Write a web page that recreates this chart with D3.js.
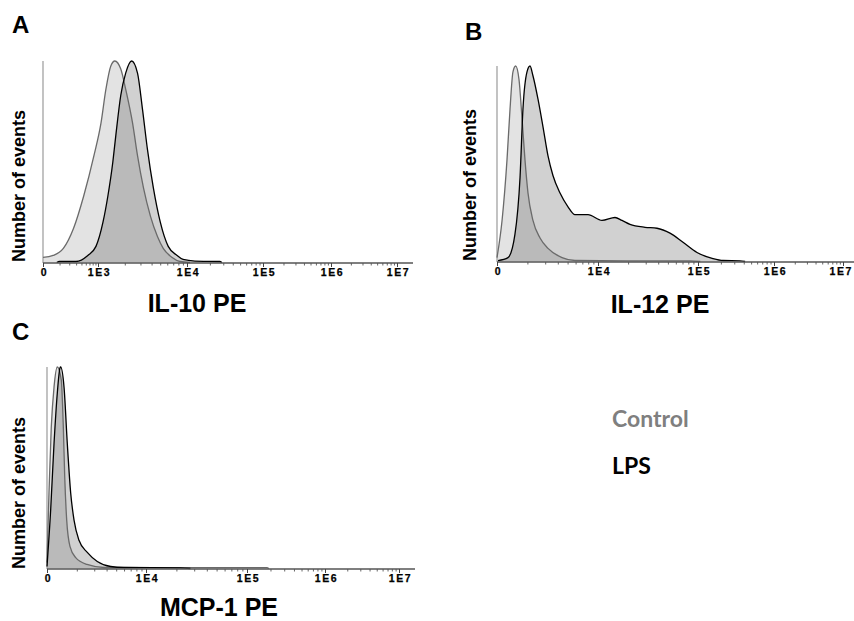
<!DOCTYPE html>
<html>
<head>
<meta charset="utf-8">
<script src="https://cdn.jsdelivr.net/npm/d3@7"></script>
<style>
  html, body { margin: 0; padding: 0; background: #fff; }
  svg { display: block; }
</style>
</head>
<body>
<svg id="chart" width="854" height="621"></svg>
<script>
// ---------------- DATA ----------------
const panelLetters = ["A", "B", "C"];
const markerNames = ["IL-10 PE", "IL-12 PE", "MCP-1 PE"];
const yAxisLabel = "Number of events";
const seriesNames = ["Control", "LPS"];

// tick labels and their position in decades along the axis ("0" sits one decade below the first labelled decade)
const tickLabelsA = ["0", "1E3", "1E4", "1E5", "1E6", "1E7"];
const tickDecadesA = [2, 3, 4, 5, 6, 7];
const tickLabelsBC = ["0", "1E4", "1E5", "1E6", "1E7"];
const tickDecadesBC = [3, 4, 5, 6, 7];

// histograms: [decade position, % of max events]
const il10Control = [[2.0,2.5],[2.185,3.5],[2.37,7],[2.556,17],[2.74,33],[2.926,53],[3.033,69],[3.089,86],[3.144,97.5],[3.189,100],[3.256,96],[3.311,86],[3.389,69],[3.444,53],[3.511,37],[3.589,23],[3.667,13],[3.733,7],[3.833,2.5],[3.922,0.5],[4.04,0]];
const il10LPS = [[2.25,0],[2.3,0.5],[2.6,0.5],[2.815,3.5],[2.963,8],[3.056,20],[3.111,33],[3.167,50],[3.2,63],[3.256,83],[3.311,94],[3.378,100],[3.444,94],[3.5,76],[3.556,56],[3.622,37],[3.7,20],[3.789,8],[3.889,3.5],[3.956,1.5],[4.105,0.7],[4.43,0.5],[4.46,0]];

const il12Control = [[3.0,2],[3.05,21],[3.099,52],[3.129,78],[3.158,97],[3.185,100],[3.218,93],[3.248,73],[3.277,52],[3.307,35],[3.356,21],[3.426,12],[3.505,6.7],[3.644,2],[3.772,0.5],[4.5,0.3],[4.92,0.3],[5.03,0]];
const il12LPS = [[3.01,0.5],[3.109,2],[3.178,14],[3.228,43],[3.257,78],[3.297,97],[3.327,100],[3.356,95],[3.406,83],[3.455,69],[3.505,54],[3.554,44],[3.624,35],[3.703,28],[3.772,24],[3.901,24],[4.04,21],[4.17,22.5],[4.24,21],[4.32,19],[4.47,17.5],[4.59,17],[4.72,14.5],[4.85,9.8],[4.99,4.6],[5.197,1.5],[5.33,0.5],[5.553,0.3],[5.62,0]];

const mcp1Control = [[3.0,3],[3.02,37.6],[3.043,70],[3.071,90],[3.104,100],[3.144,93.6],[3.165,70],[3.179,45.5],[3.199,24],[3.232,11],[3.29,5.4],[3.404,2],[3.576,0.5],[4.5,0.4],[5.256,0.4],[5.28,0]];
const mcp1LPS = [[3.0,1],[3.037,29],[3.071,62],[3.104,87],[3.131,99.5],[3.138,100],[3.172,90],[3.205,62],[3.239,37.6],[3.273,24],[3.323,14],[3.407,8],[3.508,3.5],[3.643,1],[3.778,0.5],[4.34,0.3],[4.44,0]];

// ---------------- LAYOUT ----------------
const FONT = "'Liberation Sans', Arial, Helvetica, sans-serif";
const layout = [
  { letter: [12, 33], tickPx: [43, 98, 187, 263, 331, 397], axisEnd: 413, axisY: 263, topY: 61,
    yLab: [25, 186], title: [197, 312] },
  { letter: [465, 40], tickPx: [497, 598, 698, 774, 843], axisEnd: 854, axisY: 262, topY: 66,
    yLab: [476, 185], title: [660, 313] },
  { letter: [12, 340], tickPx: [47, 146, 247, 325, 399], axisEnd: 415, axisY: 569, topY: 367,
    yLab: [25, 493], title: [219, 616] }
];
const panels = [
  { ticks: tickDecadesA, labels: tickLabelsA, control: il10Control, lps: il10LPS },
  { ticks: tickDecadesBC, labels: tickLabelsBC, control: il12Control, lps: il12LPS },
  { ticks: tickDecadesBC, labels: tickLabelsBC, control: mcp1Control, lps: mcp1LPS }
];

const svg = d3.select("#chart");
const W = +svg.attr("width");

panels.forEach((p, i) => {
  const L = layout[i];
  const g = svg.append("g");
  const x = d3.scaleLinear().domain(p.ticks).range(L.tickPx);
  const y = d3.scaleLinear().domain([0, 100]).range([L.axisY - 0.5, L.topY]);

  const area = d3.area().x(d => x(d[0])).y0(y(0)).y1(d => y(d[1])).curve(d3.curveMonotoneX);
  const line = d3.line().x(d => x(d[0])).y(d => y(d[1])).curve(d3.curveMonotoneX);

  // fills
  g.append("path").attr("d", area(p.control)).attr("fill", "#000").attr("fill-opacity", 0.11);
  g.append("path").attr("d", area(p.lps)).attr("fill", "#000").attr("fill-opacity", 0.18);

  // y axis line
  g.append("line")
    .attr("x1", L.tickPx[0]).attr("x2", L.tickPx[0])
    .attr("y1", L.axisY).attr("y2", L.topY)
    .attr("stroke", "#9a9a9a").attr("stroke-width", 1.2);

  // outlines
  g.append("path").attr("d", line(p.control)).attr("fill", "none")
    .attr("stroke", "#6a6a6a").attr("stroke-width", 1.3);
  g.append("path").attr("d", line(p.lps)).attr("fill", "none")
    .attr("stroke", "#000").attr("stroke-width", 1.3);

  // x axis baseline
  g.append("line")
    .attr("x1", L.tickPx[0]).attr("x2", L.axisEnd)
    .attr("y1", L.axisY).attr("y2", L.axisY)
    .attr("stroke", "#555").attr("stroke-width", 1.3);

  // minor ticks
  const minor = [];
  p.ticks.forEach(t => { for (let k = 2; k <= 9; k++) minor.push(t + Math.log10(k)); });
  const minorVis = minor.filter(m => x(m) <= L.axisEnd - 1);
  const minorAxis = d3.axisBottom(x).tickValues(minorVis).tickSize(2.5).tickFormat("");
  const ga = g.append("g").attr("transform", `translate(0,${L.axisY})`).call(minorAxis);
  ga.select(".domain").remove();
  ga.selectAll(".tick line").attr("stroke", "#555").attr("stroke-width", 0.9);

  // major ticks with labels
  const majorAxis = d3.axisBottom(x).tickValues(p.ticks).tickSize(4).tickPadding(2)
    .tickFormat((d, j) => p.labels[j]);
  const gm = g.append("g").attr("transform", `translate(0,${L.axisY})`).call(majorAxis);
  gm.select(".domain").remove();
  gm.selectAll(".tick line").attr("stroke", "#444").attr("stroke-width", 1);
  gm.selectAll(".tick text")
    .attr("font-family", FONT).attr("font-weight", "bold").attr("font-size", 10.5)
    .attr("letter-spacing", "1.6px").attr("dx", "1px").attr("fill", "#000")
    .attr("stroke", "#000").attr("stroke-width", 0.25);
  // keep labels inside the picture's right edge
  gm.selectAll(".tick text").each(function () {
    const bb = this.getBoundingClientRect();
    if (bb.right > W - 1) {
      const cur = parseFloat(d3.select(this).attr("dx")) || 0;
      d3.select(this).attr("dx", (cur - (bb.right - (W - 1))) + "px");
    }
  });

  // y axis label
  g.append("text")
    .attr("transform", `translate(${L.yLab[0]},${L.yLab[1]}) rotate(-90)`)
    .attr("text-anchor", "middle")
    .attr("font-family", FONT).attr("font-weight", "bold").attr("font-size", 18)
    .text(yAxisLabel);

  // marker title
  g.append("text")
    .attr("x", L.title[0]).attr("y", L.title[1])
    .attr("text-anchor", "middle")
    .attr("font-family", FONT).attr("font-weight", "bold").attr("font-size", 25)
    .text(markerNames[i]);

  // panel letter
  g.append("text")
    .attr("x", L.letter[0]).attr("y", L.letter[1])
    .attr("font-family", FONT).attr("font-weight", "bold").attr("font-size", 24)
    .text(panelLetters[i]);
});

// legend (text only)
const legendColors = ["#7f7f7f", "#000"];
const legendY = [427, 474];
seriesNames.forEach((s, i) => {
  svg.append("text")
    .attr("x", 612).attr("y", legendY[i])
    .attr("font-family", "Lato, 'Open Sans', sans-serif").attr("font-weight", "bold")
    .attr("font-size", 23).attr("fill", legendColors[i])
    .text(s);
});
</script>
</body>
</html>
